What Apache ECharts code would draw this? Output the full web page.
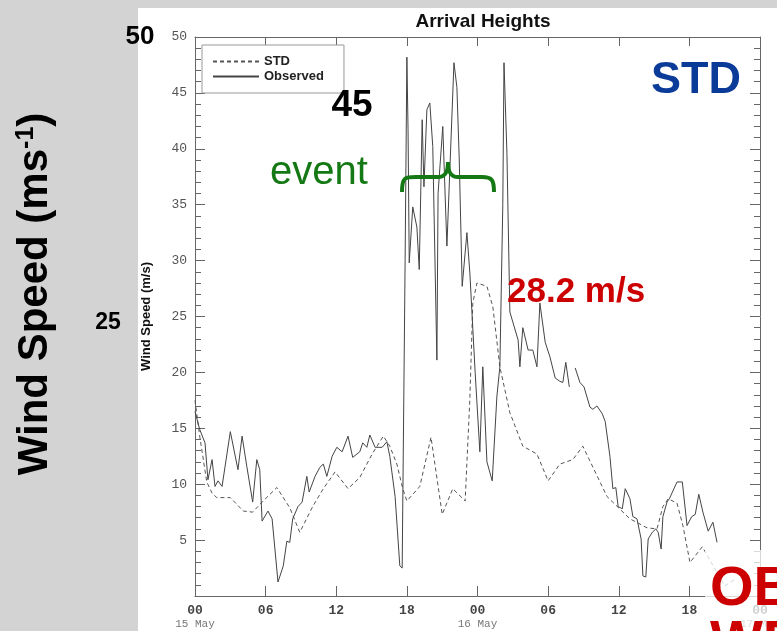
<!DOCTYPE html>
<html><head><meta charset="utf-8">
<script src="https://cdn.jsdelivr.net/npm/echarts@6/dist/echarts.min.js"></script>
<style>html,body{margin:0;padding:0;background:#d3d3d3;}#c{width:777px;height:631px;}</style>
</head><body><div id="c"></div>
<script>
// Observed wind speed (hours since 00 UT 15 May, m/s)
const obsHours = [0.0,0.25,0.4,0.85,1.1,1.45,1.7,1.95,2.3,3.0,3.65,4.0,4.4,4.9,5.25,5.5,5.7,6.2,6.55,7.05,7.5,7.8,8.05,8.3,8.75,9.1,9.5,9.7,10.2,10.6,10.9,11.2,11.65,12.05,12.5,13.0,13.4,14.0,14.25,14.6,14.85,15.3,15.9,16.3,16.55,17.0,17.4,17.6,17.85,18.0,18.1,18.2,18.5,18.85,19.05,19.3,19.45,19.7,19.95,20.2,20.55,20.65,21.05,21.4,21.65,22.0,22.25,22.45,22.7,23.1,23.35,23.8,24.2,24.45,24.8,25.25,25.65,25.9,26.15,26.25,26.5,26.75,27.45,27.6,27.85,28.3,28.7,29.05,29.3,29.75,30.15,30.6,31.0,31.25,31.5,31.8,32.05,32.3,32.7,33.05,33.55,33.8,34.15,34.6,34.85,35.25,35.5,35.75,35.95,36.3,36.55,36.95,37.2,37.55,37.9,38.05,38.3,38.5,38.85,39.15,39.35,39.6,39.75,40.1,40.3,40.95,41.4,41.8,42.2,42.5,42.8,43.15,43.6,44.0,44.35];
const obsSpeed = [16.5,15.5,14.9,13.7,10.4,12.2,9.8,10.3,9.8,14.7,11.3,14.3,11.6,8.4,12.2,11.3,6.7,7.6,6.9,1.25,2.7,4.9,4.8,6.9,8.0,8.4,10.7,9.3,10.7,11.5,11.8,10.7,12.5,13.3,12.9,14.3,12.4,12.9,13.7,13.3,14.4,13.3,13.3,13.8,12.5,8.9,2.7,2.5,30.0,48.2,41.7,29.8,34.8,33.0,29.2,42.6,36.6,43.5,44.1,40.2,21.1,36.0,42.0,31.3,38.1,47.7,45.5,39.0,27.7,32.5,28.9,20.0,12.9,20.5,12.0,10.3,17.9,20.5,35.0,47.7,39.6,25.4,22.9,20.5,24.0,22.0,22.0,20.5,26.2,22.7,21.4,19.5,19.2,19.1,20.9,18.7,null,20.4,19.1,18.7,16.9,16.7,17.0,16.3,15.6,12.5,9.6,9.7,8.0,7.8,9.6,8.7,7.1,6.9,5.1,1.8,1.7,5.1,5.7,6.0,5.7,4.2,7.1,8.4,8.7,10.2,10.2,6.3,7.1,7.3,9.1,7.5,5.8,6.6,4.8];
// STD model wind speed
const stdHours = [0.0,0.4,1.0,1.45,1.85,3.0,4.1,4.9,5.7,6.95,8.05,8.9,10.0,10.9,11.9,13.0,14.0,15.05,16.0,16.55,17.15,17.65,18.0,19.1,20.05,21.0,21.9,22.95,23.35,23.6,23.95,24.8,25.3,25.9,26.75,27.85,29.05,30.0,31.0,32.1,32.95,35.0,36.95,38.4,39.25,39.75,40.2,40.95,41.45,42.05,43.1,45.0,45.9];
const stdSpeed = [17.5,14.3,10.2,9.2,8.8,8.8,7.6,7.5,8.4,9.7,7.9,5.7,8.0,9.6,11.1,9.6,10.6,12.7,14.3,13.4,11.8,9.6,8.5,9.8,14.2,7.3,9.6,8.5,17.6,26.2,28.0,27.7,25.9,20.5,16.4,13.4,12.7,10.3,11.8,12.2,13.4,8.9,6.9,6.1,6.0,8.0,8.7,8.3,6.3,3.0,4.4,0.9,1.5];
const hourTickLabels = ['00','06','12','18','00','06','12','18','00'];
const dateTickLabels = {0:'15 May', 24:'16 May', 48:'17 May'};
const seriesNames = ['STD','Observed'];

const chart = echarts.init(document.getElementById('c'));
const axisCol = '#666';
const obsData = obsHours.map((h,i)=>[h, obsSpeed[i]===null ? '-' : obsSpeed[i]]);
const stdData = stdHours.map((h,i)=>[h, stdSpeed[i]]);
const mono = 'Liberation Mono, DejaVu Sans Mono, monospace';
const sans = 'Liberation Sans, Arial, Helvetica, sans-serif';
const aLine = {show: true, onZero: false, lineStyle: {color: axisCol, width: 1}};

chart.setOption({
  backgroundColor: '#d3d3d3',
  animation: false,
  title: {text: 'Arrival Heights', left: 478, top: 7, textAlign: 'center',
    textStyle: {fontFamily: sans, fontWeight: 'bold', fontSize: 19, color: '#111'}},
  legend: {orient: 'vertical', left: 202, top: 45, padding: [10, 20, 10, 10], itemGap: 2,
    itemWidth: 46, itemHeight: 14, borderColor: '#999', borderWidth: 1, backgroundColor: '#fff',
    data: seriesNames, itemStyle: {opacity: 0},
    textStyle: {fontFamily: sans, fontWeight: 'bold', fontSize: 13, color: '#222'}},
  grid: {left: 195, top: 37, right: 17, bottom: 35, containLabel: false, outerBoundsMode: 'none'},
  xAxis: [{type: 'value', min: 0, max: 48, interval: 6, position: 'bottom',
      axisLine: aLine, splitLine: {show: false},
      axisTick: {inside: true, length: 10, lineStyle: {color: axisCol}},
      axisLabel: {margin: 8, showMaxLabel: true, showMinLabel: true,
        formatter: v => {const i = Math.round(v/6); let s = '{h|' + hourTickLabels[i] + '}';
          if (dateTickLabels[v] !== undefined) s += '\n{d|' + dateTickLabels[v] + '}'; return s;},
        rich: {h: {fontFamily: mono, fontSize: 13, color: '#444', fontWeight: 'bold', lineHeight: 14},
               d: {fontFamily: mono, fontSize: 11, color: '#777', lineHeight: 13}}}},
    {type: 'value', min: 0, max: 48, interval: 6, position: 'top',
      axisLine: aLine, splitLine: {show: false},
      axisTick: {inside: true, length: 9, lineStyle: {color: axisCol}}, axisLabel: {show: false}}],
  yAxis: [{type: 'value', min: 0, max: 50, interval: 5, position: 'left',
      name: 'Wind Speed (m/s)', nameLocation: 'middle', nameGap: 42,
      nameTextStyle: {fontFamily: sans, fontWeight: 'bold', fontSize: 13, color: '#111'},
      axisLine: aLine, splitLine: {show: false},
      axisTick: {inside: true, length: 10, lineStyle: {color: axisCol}},
      minorTick: {show: true, splitNumber: 5, length: 6, lineStyle: {color: axisCol}},
      axisLabel: {margin: 8, fontFamily: mono, fontSize: 13, color: '#555',
        formatter: v => v === 0 ? '' : String(v)}},
    {type: 'value', min: 0, max: 50, interval: 5, position: 'right',
      axisLine: aLine, splitLine: {show: false},
      axisTick: {inside: true, length: 10, lineStyle: {color: axisCol}},
      minorTick: {show: true, splitNumber: 5, length: 6, lineStyle: {color: axisCol}},
      axisLabel: {show: false}}],
  series: [
    {name: seriesNames[0], type: 'line', xAxisIndex: 0, yAxisIndex: 0, data: stdData, symbol: 'none',
      lineStyle: {color: '#555', width: 1, type: [4, 3]}, itemStyle: {color: '#555'}, z: 3},
    {name: seriesNames[1], type: 'line', xAxisIndex: 0, yAxisIndex: 0, data: obsData, symbol: 'none',
      connectNulls: false, lineStyle: {color: '#444', width: 1}, itemStyle: {color: '#444'}, z: 4}
  ],
  graphic: [
    {type: 'rect', z: -10, silent: true, shape: {x: 138, y: 8, width: 639, height: 623}, style: {fill: '#fff'}},
    {type: 'rect', z: 100, silent: true, shape: {x: 705, y: 550, width: 72, height: 81}, style: {fill: 'rgba(255,255,255,0.75)'}},
    {type: 'text', z: 101, x: 35, y: 294, rotation: Math.PI/2,
      style: {text: '{a|Wind Speed (ms}{b|-1}{a|)}', align: 'center', verticalAlign: 'middle',
        rich: {a: {fontFamily: sans, fontWeight: 'bold', fontSize: 42, fill: '#000', color: '#000'},
               b: {fontFamily: sans, fontWeight: 'bold', fontSize: 25, fill: '#000', color: '#000', verticalAlign: 'top'}}}},
    {type: 'text', z: 101, x: 140, y: 37, style: {text: '50', fontFamily: sans, fontWeight: 'bold', fontSize: 26, fill: '#000', align: 'center', verticalAlign: 'middle'}},
    {type: 'text', z: 101, x: 108, y: 323, style: {text: '25', fontFamily: sans, fontWeight: 'bold', fontSize: 23, fill: '#000', align: 'center', verticalAlign: 'middle'}},
    {type: 'text', z: 101, x: 352, y: 106, style: {text: '45', fontFamily: sans, fontWeight: 'bold', fontSize: 37, fill: '#000', align: 'center', verticalAlign: 'middle'}},
    {type: 'text', z: 101, x: 319, y: 173, style: {text: 'event', fontFamily: sans, fontSize: 40, fill: '#147814', align: 'center', verticalAlign: 'middle'}},
    {type: 'text', z: 101, x: 696, y: 81, style: {text: 'STD', fontFamily: sans, fontWeight: 'bold', fontSize: 45, fill: '#0b3b98', align: 'center', verticalAlign: 'middle'}},
    {type: 'text', z: 101, x: 507, y: 292, style: {text: '28.2 m/s', fontFamily: sans, fontWeight: 'bold', fontSize: 35, fill: '#cc0000', align: 'left', verticalAlign: 'middle'}},
    {type: 'text', z: 101, x: 710, y: 590, style: {text: 'OBS', fontFamily: sans, fontWeight: 'bold', fontSize: 56, fill: '#cc0000', align: 'left', verticalAlign: 'middle'}},
    {type: 'text', z: 101, x: 710, y: 644, style: {text: 'WRF', fontFamily: sans, fontWeight: 'bold', fontSize: 56, fill: '#cc0000', align: 'left', verticalAlign: 'middle'}},
    {type: 'bezierCurve', z: 101, shape: {x1: 402, y1: 192, cpx1: 402, cpy1: 177, cpx2: 405, cpy2: 177, x2: 416, y2: 177}, style: {stroke: '#147814', lineWidth: 4, fill: null}},
    {type: 'line', z: 101, shape: {x1: 416, y1: 177, x2: 438, y2: 177}, style: {stroke: '#147814', lineWidth: 4}},
    {type: 'bezierCurve', z: 101, shape: {x1: 438, y1: 177, cpx1: 446, cpy1: 177, cpx2: 448, cpy2: 171, x2: 448, y2: 162}, style: {stroke: '#147814', lineWidth: 4, fill: null}},
    {type: 'bezierCurve', z: 101, shape: {x1: 448, y1: 162, cpx1: 448, cpy1: 171, cpx2: 450, cpy2: 177, x2: 458, y2: 177}, style: {stroke: '#147814', lineWidth: 4, fill: null}},
    {type: 'line', z: 101, shape: {x1: 458, y1: 177, x2: 482, y2: 177}, style: {stroke: '#147814', lineWidth: 4}},
    {type: 'bezierCurve', z: 101, shape: {x1: 482, y1: 177, cpx1: 492, cpy1: 177, cpx2: 494, cpy2: 180, x2: 494, y2: 192}, style: {stroke: '#147814', lineWidth: 4, fill: null}}
  ]
});
</script></body></html>
